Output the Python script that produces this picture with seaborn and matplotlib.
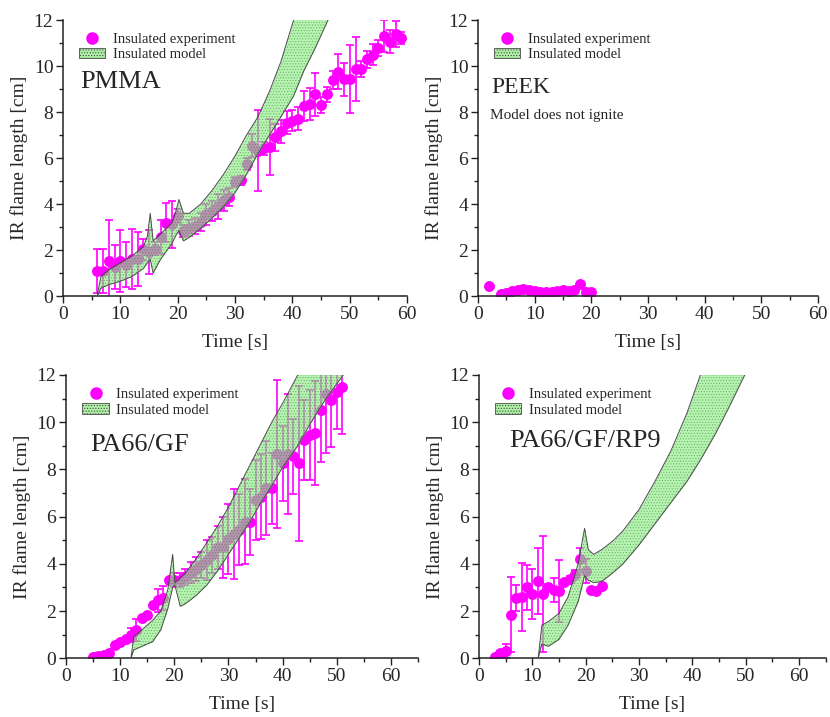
import numpy as np
import seaborn as sns
import matplotlib.pyplot as plt
from matplotlib.lines import Line2D
from matplotlib.patches import Patch
from matplotlib.ticker import MultipleLocator

# ----------------------- Data -----------------------
# PMMA experiment
pmma_t = list(range(6, 60))
pmma_v = [1.09, 1.10, 1.53, 1.27, 1.53, 1.37, 1.61, 1.61, 2.03, 1.93,
          2.07, 2.58, 3.19, 3.12, 3.48, 2.84, 2.97, 3.06, 3.22, 3.55,
          3.70, 3.91, 4.17, 4.32, 4.97, 5.04, 5.74, 6.54, 6.32, 6.42,
          6.49, 6.90, 7.17, 7.54, 7.62, 7.72, 8.26, 8.35, 8.78, 8.30,
          8.78, 9.39, 9.75, 9.42, 9.43, 9.87, 9.87, 10.29, 10.50, 10.77,
          11.32, 11.06, 11.38, 11.23]
pmma_err = [0.95, 0.95, 1.76, 0.95, 1.36, 0.97, 1.31, 1.19, 0.45, 0.95,
            0.30, 0.75, 0.85, 1.03, 0.30, 0.25, 0.35, 0.35, 0.40, 0.45,
            0.45, 0.55, 0.45, 0.40, 0.20, 0.20, 0.25, 0.50, 1.75, 0.30,
            1.23, 0.60, 0.50, 0.50, 0.45, 0.50, 0.65, 0.70, 0.93, 0.36,
            0.33, 0.40, 0.76, 0.70, 1.48, 1.38, 0.36, 0.36, 0.47, 0.35,
            0.69, 0.50, 0.56, 0.25]
# PMMA model band
pmma_mt = [6, 6.6, 8, 10, 12, 14, 14.7, 15.2, 15.7, 17, 19, 19.7, 20.2, 21,
           22, 24, 26, 28, 30, 32, 34, 36, 38, 40.2, 42, 44, 46.2]
pmma_up = [0.1, 0.85, 1.15, 1.45, 1.75, 2.15, 2.6, 3.6, 2.4, 2.7, 3.2, 3.7,
           4.2, 3.6, 3.6, 4.0, 4.6, 5.3, 6.1, 7.0, 7.8, 8.9, 10.2, 12.0,
           13.3, 14.7, 16.2]
pmma_lo = [0.0, 0.35, 0.5, 0.65, 0.85, 1.2, 1.45, 1.6, 1.0, 1.6, 2.3, 2.65,
           2.85, 2.4, 2.55, 2.95, 3.4, 3.9, 4.5, 5.3, 6.2, 7.0, 7.8, 8.7,
           9.8, 10.8, 12.0]

# PEEK experiment (model does not ignite)
peek_t = [2, 4, 5, 6, 7, 8, 9, 10, 11, 12, 13, 14, 15, 16, 17, 18, 19, 20]
peek_v = [0.45, 0.10, 0.13, 0.22, 0.28, 0.30, 0.28, 0.22, 0.20, 0.17,
          0.20, 0.22, 0.25, 0.22, 0.27, 0.52, 0.18, 0.18]

# PA66/GF experiment
pa_t = list(range(5, 52))
pa_v = [0.05, 0.08, 0.12, 0.20, 0.55, 0.68, 0.82, 1.00, 1.20, 1.70,
        1.85, 2.25, 2.45, 2.55, 3.30, 3.33, 3.33, 3.45, 3.62, 3.78,
        3.95, 4.15, 4.38, 4.70, 4.70, 5.05, 5.25, 5.45, 5.78, 5.78,
        6.70, 6.85, 7.22, 7.20, 8.65, 8.25, 8.65, 8.55, 8.25, 9.25,
        9.45, 9.55, 10.50, 11.20, 10.95, 11.30, 11.48]
pa_err = [0, 0, 0, 0, 0, 0, 0, 0.30, 0.45, 0, 0, 0, 0.50, 0.50, 0, 0.30,
          0.30, 0.35, 0.45, 0.50, 0.55, 0.85, 0.75, 0.90, 1.30, 1.50, 1.90,
          1.50, 1.80, 1.40, 1.70, 1.80, 2.00, 1.50, 3.15, 1.60, 2.55, 1.60,
          3.30, 1.70, 1.90, 2.20, 2.20, 2.50, 2.00, 1.60, 2.00]
# PA66/GF model band
pa_mt = [12, 12.5, 14, 16, 17.5, 18.8, 19.7, 20.1, 21.1, 22, 24, 26, 28, 30,
         32, 34, 36, 38, 40, 42.8, 45, 48, 51.2]
pa_up = [0.0, 0.9, 1.2, 1.6, 2.0, 2.9, 4.4, 3.2, 3.4, 3.6, 4.2, 4.9, 5.6,
         6.4, 7.3, 8.2, 9.1, 10.0, 10.8, 12.0, 13.0, 14.3, 15.7]
pa_lo = [0.0, 0.35, 0.5, 0.7, 1.2, 2.1, 3.0, 3.1, 2.2, 2.3, 2.65, 3.1, 3.7,
         4.4, 5.1, 5.8, 6.6, 7.3, 8.1, 9.0, 9.9, 11.0, 12.0]

# PA66/GF/RP9 experiment
rp_t = list(range(3, 24))
rp_v = [0.05, 0.22, 0.30, 1.85, 2.55, 2.60, 3.00, 2.72, 3.28, 2.72, 3.00,
        2.88, 2.85, 3.25, 3.35, 3.55, 4.20, 3.70, 2.88, 2.85, 3.05]
rp_err = [0, 0.10, 0.30, 1.60, 0.55, 1.45, 0.95, 1.05, 1.40, 2.45, 0.15,
          0.50, 1.30, 0, 0.15, 0.20, 0.45, 0.50, 0, 0, 0]
# PA66/GF/RP9 model band
rp_mt = [11.1, 11.8, 13, 15, 16.7, 18.6, 19.8, 20.5, 21.5, 23, 25, 27, 30,
         33, 36, 39, 41.5, 44.3, 47, 49.8]
rp_up = [0.0, 1.4, 1.55, 1.9, 2.6, 4.0, 5.5, 4.6, 4.4, 4.6, 4.95, 5.4,
         6.3, 7.5, 8.8, 10.4, 12.0, 13.5, 15.0, 16.5]
rp_lo = [0.0, 0.6, 0.5, 0.8, 1.4, 2.4, 3.5, 3.3, 3.2, 3.25, 3.6, 4.0, 4.8,
         5.7, 6.6, 7.5, 8.4, 9.5, 10.7, 12.0]

# ----------------------- Style -----------------------
sns.set_theme(style='ticks')
plt.rcParams['font.family'] = ['Liberation Serif', 'DejaVu Serif']
plt.rcParams['hatch.linewidth'] = 0.5

MAG = '#ff00ff'
GREEN = '#8cee84'


def draw_band(ax, t, lo, up):
    ax.fill_between(t, lo, up, facecolor=GREEN, alpha=0.62, linewidth=0, zorder=3)
    ax.fill_between(t, lo, up, facecolor='none', edgecolor='#2d7a2d', hatch='......',
                    linewidth=0, alpha=0.5, zorder=3)
    ax.fill_between(t, lo, up, facecolor='none', edgecolor='#4a4a4a', linewidth=0.7,
                    zorder=4)


def draw_exp(ax, t, v, err=None):
    if err is not None:
        ax.errorbar(t, v, yerr=err, fmt='none', ecolor=MAG, elinewidth=1.2,
                    capsize=3, capthick=1.2, zorder=1)
    sns.scatterplot(x=t, y=v, ax=ax, color=MAG, s=62, edgecolor=MAG, linewidth=0,
                    zorder=2, legend=False)


def style_axes(ax, xmax):
    ax.set_xlim(0, xmax)
    ax.set_ylim(0, 12)
    ax.xaxis.set_major_locator(MultipleLocator(10))
    ax.xaxis.set_minor_locator(MultipleLocator(5))
    ax.yaxis.set_major_locator(MultipleLocator(2))
    ax.yaxis.set_minor_locator(MultipleLocator(1))
    ax.tick_params(which='major', direction='out', length=5, width=1, labelsize=14,
                   color='#222222', pad=2)
    ax.tick_params(which='minor', direction='out', length=3, width=1, color='#222222')
    for s in ['top', 'right']:
        ax.spines[s].set_visible(False)
    for s in ['left', 'bottom']:
        ax.spines[s].set_color('#222222')
        ax.spines[s].set_linewidth(1.1)
    ax.set_xlabel('Time [s]', fontsize=14, labelpad=8)
    ax.set_ylabel('IR flame length [cm]', fontsize=14, labelpad=4)
    handles = [Line2D([0], [0], marker='o', color='none', markerfacecolor=MAG,
                      markeredgecolor=MAG, markersize=8),
               Patch(facecolor='#aef0a6', edgecolor='#4a4a4a', hatch='......',
                     linewidth=0.6)]
    ax.legend(handles, ['Insulated experiment', 'Insulated model'], loc='upper left',
              bbox_to_anchor=(0.03, 0.975), frameon=False, fontsize=10.5,
              handlelength=1.8, handletextpad=0.5, labelspacing=0.15, borderaxespad=0)


fig = plt.figure(figsize=(8.3, 7.17), dpi=100)
ax1 = fig.add_axes([0.076, 0.587, 0.4145, 0.385])
ax2 = fig.add_axes([0.576, 0.587, 0.4095, 0.385])
ax3 = fig.add_axes([0.0795, 0.082, 0.4241, 0.395])
ax4 = fig.add_axes([0.577, 0.082, 0.4180, 0.395])

# PMMA
draw_exp(ax1, pmma_t, pmma_v, pmma_err)
draw_band(ax1, pmma_mt, pmma_lo, pmma_up)
style_axes(ax1, 60)
ax1.text(0.05, 0.775, 'PMMA', transform=ax1.transAxes, fontsize=19, va='center')

# PEEK
draw_exp(ax2, peek_t, peek_v)
style_axes(ax2, 60)
ax2.text(0.04, 0.757, 'PEEK', transform=ax2.transAxes, fontsize=17, va='center')
ax2.text(0.035, 0.656, 'Model does not ignite', transform=ax2.transAxes, fontsize=11,
         va='center')

# PA66/GF
draw_exp(ax3, pa_t, pa_v, pa_err)
draw_band(ax3, pa_mt, pa_lo, pa_up)
style_axes(ax3, 65)
ax3.text(0.068, 0.753, 'PA66/GF', transform=ax3.transAxes, fontsize=19, va='center')

# PA66/GF/RP9
draw_exp(ax4, rp_t, rp_v, rp_err)
draw_band(ax4, rp_mt, rp_lo, rp_up)
style_axes(ax4, 65)
ax4.text(0.086, 0.767, 'PA66/GF/RP9', transform=ax4.transAxes, fontsize=19, va='center')

fig.savefig('out.png', dpi=100)
